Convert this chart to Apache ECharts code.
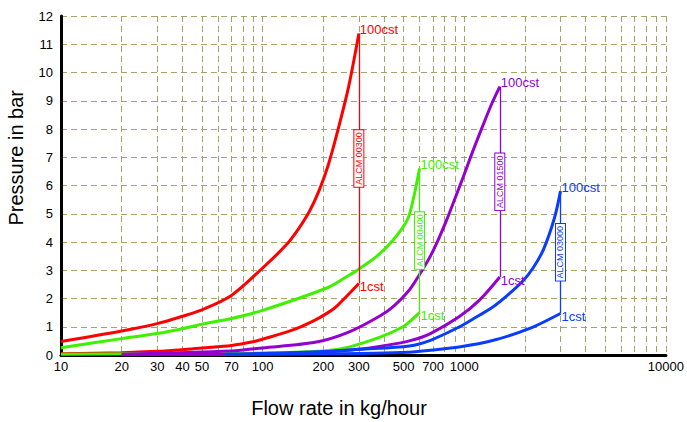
<!DOCTYPE html>
<html>
<head>
<meta charset="utf-8">
<script src="https://cdn.jsdelivr.net/npm/echarts@6/dist/echarts.min.js"></script>
<style>html,body{margin:0;padding:0;background:#fff}#c{width:687px;height:422px}</style>
</head>
<body>
<div id="c"></div>
<script>
// Tick labels and grid positions (flow in kg/hour, log scale)
const flowLabels = [10, 20, 30, 40, 50, 70, 100, 200, 300, 500, 700, 1000, 10000];
const flowGrid = [10, 20, 30, 40, 50, 60, 70, 80, 90, 100, 200, 300, 400, 500, 600, 700, 800, 900, 1000, 2000, 3000, 4000, 5000, 6000, 7000, 8000, 9000, 10000];
const pressureMin = 0, pressureMax = 12, pressureStep = 1;

// Model names and max flows
const models = ['ALCM 00300', 'ALCM 00400', 'ALCM 01500', 'ALCM 03000'];
const modelFlow = [300, 600, 1500, 3000];

// Curves: [flow, pressure]
const red100 = [[10,0.48],[20,0.85],[30,1.11],[40,1.37],[50,1.6],[70,2.11],[100,3.08],[131,3.9],[150,4.45],[171,5.1],[190,5.8],[211,6.7],[234,7.85],[267,9.5],[300,11.38]];
const red1 = [[10,0.04],[20,0.08],[30,0.13],[40,0.19],[50,0.25],[70,0.34],[91,0.48],[100,0.56],[139,0.87],[180,1.22],[211,1.5],[234,1.74],[300,2.53]];
const green100 = [[10,0.26],[20,0.58],[30,0.76],[40,0.93],[50,1.09],[70,1.29],[100,1.58],[211,2.39],[258,2.75],[297,3.02],[369,3.5],[443,4.06],[523,4.8],[562,5.6],[600,6.6]];
const green1 = [[10,0.03],[50,0.05],[100,0.07],[200,0.14],[267,0.28],[385,0.64],[494,0.99],[546,1.23],[600,1.5]];
const purple100 = [[20,0.03],[70,0.14],[100,0.25],[185,0.46],[267,0.81],[385,1.4],[450,1.75],[534,2.3],[600,2.85],[679,3.5],[750,4.15],[820,4.8],[906,5.6],[1000,6.4],[1100,7.2],[1233,8.1],[1360,8.85],[1500,9.5]];
const purple1 = [[20,0.01],[70,0.02],[100,0.04],[200,0.1],[300,0.2],[400,0.33],[534,0.5],[679,0.76],[942,1.35],[1189,1.94],[1500,2.76]];
const blue100 = [[65,0.03],[100,0.05],[200,0.12],[300,0.2],[534,0.32],[679,0.52],[942,0.99],[1091,1.25],[1397,1.72],[1641,2.12],[1952,2.62],[2193,3.08],[2465,3.72],[2800,4.85],[3000,5.8]];
const blue1 = [[65,0.02],[200,0.04],[534,0.1],[679,0.17],[942,0.28],[1397,0.52],[2095,0.93],[3000,1.47]];

const colors = ['#ff0000', '#40f000', '#9400d0', '#0a3cff'];
const curves100 = [red100, green100, purple100, blue100];
const curves1 = [red1, green1, purple1, blue1];

const narrow = "'Liberation Sans Narrow', 'Liberation Sans', Arial, sans-serif";
const regular = "'Liberation Sans', Arial, sans-serif";
const gridColor = '#a3a36a';

const series = [];
for (let i = 0; i < 4; i++) {
  const top = curves100[i][curves100[i].length - 1];
  const bot = curves1[i][curves1[i].length - 1];
  series.push({
    type: 'line', data: curves100[i], smooth: 0.3, showSymbol: false, silent: true,
    lineStyle: { color: colors[i], width: 3 }, itemStyle: { color: colors[i] },
    endLabel: { show: true, formatter: '100cst', color: colors[i], fontFamily: narrow, fontSize: 13, distance: 1, offset: [0, -4] },
    markLine: {
      silent: true, symbol: 'none', animation: false,
      lineStyle: { color: colors[i], width: 1.3, type: 'solid', opacity: 1 },
      label: { show: true, position: 'insideMiddle', formatter: models[i], color: colors[i], fontFamily: regular, fontSize: 9,
               backgroundColor: '#fff', borderColor: colors[i], borderWidth: 1, padding: [0, 2], lineHeight: 9 },
      data: [[{ coord: [modelFlow[i], bot[1]] }, { coord: [modelFlow[i], top[1]] }]]
    }
  });
  series.push({
    type: 'line', data: curves1[i], smooth: 0.3, showSymbol: false, silent: true,
    lineStyle: { color: colors[i], width: 3 }, itemStyle: { color: colors[i] },
    endLabel: { show: true, formatter: '1cst', color: colors[i], fontFamily: narrow, fontSize: 13, distance: 1, offset: [0, 3] }
  });
}

const chart = echarts.init(document.getElementById('c'), null, { renderer: 'svg' });
chart.setOption({
  animation: false,
  grid: { left: 61, right: 14, top: 16, bottom: 67, containLabel: false },
  xAxis: {
    type: 'log', logBase: 10, min: 10, max: 10000,
    axisLine: { show: true, lineStyle: { color: '#000', width: 3 } },
    axisTick: { show: false, customValues: flowGrid },
    axisLabel: { customValues: flowLabels, color: '#000', fontFamily: narrow, fontSize: 13, margin: 5,
                 showMinLabel: true, showMaxLabel: true, formatter: v => String(Math.round(v)) },
    splitLine: { show: true, lineStyle: { color: gridColor, type: [6, 4], width: 1 } },
    minorTick: { show: false }, minorSplitLine: { show: false }
  },
  yAxis: {
    type: 'value', min: pressureMin, max: pressureMax, interval: pressureStep,
    axisLine: { show: true, lineStyle: { color: '#000', width: 3 } },
    axisTick: { show: false },
    axisLabel: { color: '#000', fontFamily: narrow, fontSize: 13, margin: 8 },
    splitLine: { show: true, lineStyle: { color: gridColor, type: [6, 4], width: 1 } }
  },
  graphic: [
    { type: 'text', left: 6, top: 90, rotation: Math.PI / 2, style: { text: 'Pressure in bar', font: "20px " + regular, fill: '#000' }, silent: true },
    { type: 'text', x: 339, y: 408, style: { text: 'Flow rate in kg/hour', font: "20px " + regular, fill: '#000', align: 'center', verticalAlign: 'middle' }, silent: true }
  ],
  series: series
});
</script>
</body>
</html>
